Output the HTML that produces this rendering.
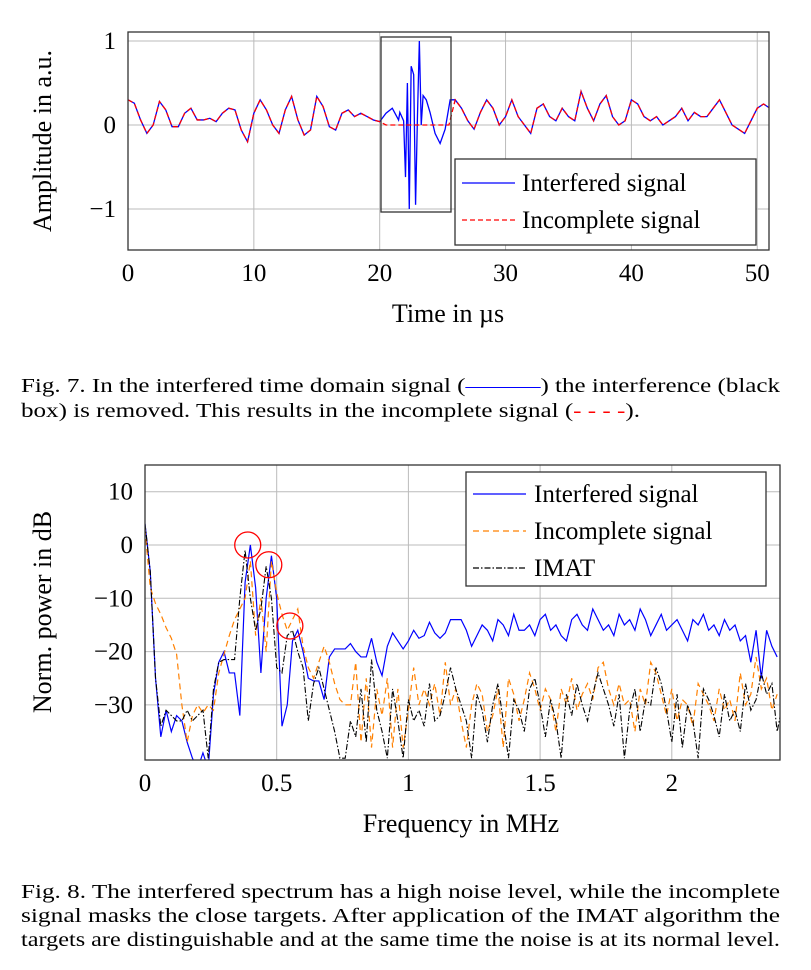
<!DOCTYPE html>
<html><head><meta charset="utf-8"><style>
body{margin:0;background:#fff;}
svg{display:block;font-family:"Liberation Serif",serif;}
</style></head><body>
<svg id="fig" width="811" height="970" viewBox="0 0 811 970" xmlns="http://www.w3.org/2000/svg">
<defs>
<clipPath id="c1"><rect x="128" y="32" width="641" height="218"/></clipPath>
<clipPath id="c2"><rect x="145" y="465" width="635" height="295"/></clipPath>
</defs>
<g id="g1"></g>
<g id="g2"></g>
<text x="21" y="392" font-size="20" textLength="759" lengthAdjust="spacingAndGlyphs">Fig. 7.  In the interfered time domain signal (<tspan fill="#00f">———</tspan>) the interference (black</text>
<text x="21" y="417" font-size="20" textLength="619" lengthAdjust="spacingAndGlyphs">box) is removed. This results in the incomplete signal (<tspan fill="#f00">- - - -</tspan>).</text>
<text x="21" y="898" font-size="20" textLength="759" lengthAdjust="spacingAndGlyphs">Fig. 8.  The interfered spectrum has a high noise level, while the incomplete</text>
<text x="21" y="922" font-size="20" textLength="759" lengthAdjust="spacingAndGlyphs">signal masks the close targets. After application of the IMAT algorithm the</text>
<text x="21" y="946" font-size="20" textLength="759" lengthAdjust="spacingAndGlyphs">targets are distinguishable and at the same time the noise is at its normal level.</text>
</svg>
<script>
// ---- Chart 1 data ----
const timeStep = 0.5;
const baseSignal = [.3,.26,.06,-.1,0,.28,.18,-.02,-.02,.14,.2,.06,.06,.08,.04,.14,.2,.18,-.06,-.2,.14,.3,.18,0,-.1,.18,.34,.06,-.12,-.06,.34,.22,-.02,-.06,.14,.18,.1,.14,.1,.06,.04,.14,.2,.06,-.6,-.9,.3,.1,.25,-.05,-.2,.1,.3,.2,.05,-.05,.15,.3,.2,0,.1,.3,.1,0,-.1,.2,.25,.1,.05,.2,.1,.05,.4,.2,.05,.25,.35,.1,0,.05,.3,.25,.1,.05,.1,0,.05,.1,.2,.05,.15,.1,.1,.2,.3,.15,0,-.05,-.1,.05,.2,.25,.2];
const burstTimes = [21.6,21.9,22.05,22.2,22.35,22.5,22.7,22.85,23.0,23.15,23.3,23.45,23.7,24.0,24.4,24.8,25.2,25.6];
const burstValues = [.15,.05,-.62,.5,-1,.7,.6,-.95,.1,1,0,.35,.3,.15,-.1,-.22,-.05,.3];
const removedStart = 20.2, removedEnd = 25.7;
const xTicks1 = [0,10,20,30,40,50];
const yTicks1 = [-1,0,1];
// ---- Chart 2 data ----
const freqStep = 0.02;
const interferedDb = [4,-5,-25,-36,-31,-35,-32,-33,-37,-40,-42,-39,-42,-28,-22,-20,-24,-24,-32,-7,0,-8,-24,-10,-2,-10,-34,-30,-18,-16,-20,-25,-25.5,-25.5,-29,-21,-19.5,-19.5,-19.5,-18.5,-20,-21,-21,-17.5,-22,-24.5,-19,-16.5,-18,-19.5,-18,-16,-17.5,-17,-14.5,-16.5,-17.5,-16.5,-14,-14,-14,-16,-19,
-17,-15,-16,-18,-14,-15,-17,-13,-16,-16,-15,-17,-14,-13,-16,-15,-17,-18,-14,-13,-15,-16,-12,-14,-16,-15,-17,-13,-15,-14,-16,-12,-14,-17,-15,-13,-16,-15,-14,-16,-18,-14,-15,-13,-16,-15,-17,-14,-16,-15,-18,-17,-22,-16,-25,-16,-19,-21];
const incompleteDb = [3,-8,-11,-13,-15.5,-17.5,-20.5,-30,-37,-32,-30,-31.5,-30,-31,-24,-20.5,-17,-14,-12,-10,-3,-17,-10,-20,-3,-9,-13,-16,-14,-12,-19,-23,-25,-22,-19,-22,-26,-29,-30,-30,-22,-37,-25,-38,-27,-32,-25,-38,-27,-38,-31,-23,-30,-27,-30,-26,-32,-22,
-30,-27,-33,-38,-30,-26,-28,-35,-32,-27,-38,-25,-28,-33,-29,-24,-27,-31,-27,-29,-35,-27,-30,-25,-31,-28,-26,-29,-23,-22,-27,-30,-26,-30,-29,-35,-27,-30,-22,-24,-28,-32,-27,-33,-29,-30,-34,-26,-28,-30,-33,-27,-31,-29,-33,-24,-30,-28,-21,-27,-25,-31,-28];
const imatDb = [4,-5,-25,-34,-31,-32,-33,-33,-31,-33,-32,-31,-40,-27,-22,-21.5,-21.5,-21.5,-10,-1,-10,-16,-12,-4,-10,-23,-24,-17,-16,-20,-23,-33,-26,-23,-27,-31,-35,-40,-40,-33,-36,-27,-37,-21.5,-31,-35,-40,-27,-33,-40,-29,-33,-31,-34,-26,-33,-32,-28,-23,
-27,-30,-33,-40,-28,-31,-37,-30,-26,-33,-40,-29,-31,-35,-27,-25,-30,-36,-29,-33,-40,-28,-32,-26,-30,-33,-28,-24,-27,-30,-34,-28,-40,-31,-27,-35,-29,-30,-23,-26,-31,-37,-28,-38,-30,-33,-40,-27,-29,-32,-36,-28,-33,-31,-35,-26,-31,-29,-24,-28,-26,-35,-30];
const peakFreqs = [0.39,0.47,0.55];
const peakDb = [0,-3.7,-15.2];
const xTicks2 = [0,0.5,1,1.5,2];
const xTickLabels2 = ['0','0.5','1','1.5','2'];
const yTicks2 = [-30,-20,-10,0,10];

const NS='http://www.w3.org/2000/svg';
function mk(tag, attrs, parent, txt){const e=document.createElementNS(NS,tag);for(const k in attrs)e.setAttribute(k,attrs[k]);if(txt!==undefined)e.textContent=txt;parent.appendChild(e);return e;}
const fmt = v => v<0 ? '\u2212'+Math.abs(v) : String(v);

// ===== Chart 1 =====
const g1=document.getElementById('g1');
const X1=t=>128+t*12.585, Y1=v=>125-v*84;
xTicks1.forEach(t=>{
  const l=mk('line',{x1:X1(t),x2:X1(t),y1:32,y2:250,stroke:'#bbb','stroke-width':1},g1);
   
  const tx=mk('text',{x:X1(t),y:281,'font-size':25,'text-anchor':'middle'},g1,String(t));
   
});
yTicks1.forEach(v=>{
  const l=mk('line',{x1:128,x2:769,y1:Y1(v),y2:Y1(v),stroke:'#bbb','stroke-width':1},g1);
   
  const tx=mk('text',{x:116,y:Y1(v)+8,'font-size':25,'text-anchor':'end'},g1,fmt(v));
   
});
let interPts=[];
baseSignal.forEach((v,i)=>{const t=i*timeStep; if(t<21.6||t>25.6) interPts.push([t,v]);});
burstTimes.forEach((t,i)=>interPts.push([t,burstValues[i]]));
interPts.sort((a,b)=>a[0]-b[0]);
const pl1=mk('polyline',{points:interPts.map(p=>X1(p[0])+','+Y1(p[1])).join(' '),fill:'none',stroke:'#00f','stroke-width':1.3,'clip-path':'url(#c1)'},g1);
 
let incPts=baseSignal.map((v,i)=>{const t=i*timeStep;return [t,(t>=removedStart&&t<=removedEnd)?0:v];});
const pl2=mk('polyline',{points:incPts.map(p=>X1(p[0])+','+Y1(p[1])).join(' '),fill:'none',stroke:'#f00','stroke-width':1.3,'stroke-dasharray':'5,3','clip-path':'url(#c1)'},g1);
 
const bx=mk('rect',{x:381,y:37,width:70,height:175,fill:'none',stroke:'#333','stroke-width':1.3},g1);
 
const f1=mk('rect',{x:128,y:32,width:641,height:218,fill:'none',stroke:'#333','stroke-width':1.3},g1);
 
const lg1=mk('rect',{x:455,y:159,width:301,height:86,fill:'#fff',stroke:'#333','stroke-width':1.3},g1);
 
const le1=mk('line',{x1:462,x2:515,y1:183,y2:183,stroke:'#00f','stroke-width':1.3},g1);
 
const lt1=mk('text',{x:522,y:191,'font-size':25},g1,'Interfered signal');
 
const le2=mk('line',{x1:462,x2:515,y1:220,y2:220,stroke:'#f00','stroke-width':1.3,'stroke-dasharray':'5,3'},g1);
 
const lt2=mk('text',{x:522,y:228,'font-size':25},g1,'Incomplete signal');
 
const xa1=mk('text',{x:448,y:322,'font-size':26,'text-anchor':'middle'},g1,'Time in \u00b5s');
 
const ya1=mk('text',{x:0,y:0,'font-size':26,'text-anchor':'middle',transform:'translate(51,141) rotate(-90)'},g1,'Amplitude in a.u.');
 

// ===== Chart 2 =====
const g2=document.getElementById('g2');
const X2=f=>145+f*263.4, Y2=v=>545-v*5.33;
xTicks2.forEach((f,i)=>{
  const l=mk('line',{x1:X2(f),x2:X2(f),y1:465,y2:760,stroke:'#bbb','stroke-width':1},g2);
   
  const tx=mk('text',{x:X2(f),y:791,'font-size':25,'text-anchor':'middle'},g2,xTickLabels2[i]);
   
});
yTicks2.forEach(v=>{
  const l=mk('line',{x1:145,x2:780,y1:Y2(v),y2:Y2(v),stroke:'#bbb','stroke-width':1},g2);
   
  const tx=mk('text',{x:133,y:Y2(v)+8,'font-size':25,'text-anchor':'end'},g2,fmt(v));
   
});
const ptsOf=arr=>arr.map((v,i)=>X2(i*freqStep)+','+Y2(v)).join(' ');
const s1=mk('polyline',{points:ptsOf(interferedDb),fill:'none',stroke:'#00f','stroke-width':1.2,'clip-path':'url(#c2)'},g2);
 
const s2=mk('polyline',{points:ptsOf(incompleteDb),fill:'none',stroke:'#ff8000','stroke-width':1.2,'stroke-dasharray':'6,4','clip-path':'url(#c2)'},g2);
 
const s3=mk('polyline',{points:ptsOf(imatDb),fill:'none',stroke:'#000','stroke-width':1.1,'stroke-dasharray':'6,2,1.5,2','clip-path':'url(#c2)'},g2);
 
peakFreqs.forEach((f,i)=>{
  const c=mk('circle',{cx:X2(f),cy:Y2(peakDb[i]),r:13,fill:'none',stroke:'#f00','stroke-width':1.3},g2);
   
});
const f2=mk('rect',{x:145,y:465,width:635,height:295,fill:'none',stroke:'#333','stroke-width':1.3},g2);
 
const lg2=mk('rect',{x:466,y:472,width:300,height:114,fill:'#fff',stroke:'#333','stroke-width':1.3},g2);
 
[['#00f','none','Interfered signal','interfered',494],['#ff8000','6,4','Incomplete signal','incomplete',531],['#000','6,2,1.5,2','IMAT','imat',568]].forEach(e=>{
  const l=mk('line',{x1:473,x2:526,y1:e[4],y2:e[4],stroke:e[0],'stroke-width':1.2,'stroke-dasharray':e[1]},g2);
   
  const t=mk('text',{x:534,y:e[4]+8,'font-size':25},g2,e[2]);
   
});
const xa2=mk('text',{x:461,y:832,'font-size':26,'text-anchor':'middle'},g2,'Frequency in MHz');
 
const ya2=mk('text',{x:0,y:0,'font-size':26,'text-anchor':'middle',transform:'translate(51,612) rotate(-90)'},g2,'Norm. power in dB');
 
</script>
</body></html>
